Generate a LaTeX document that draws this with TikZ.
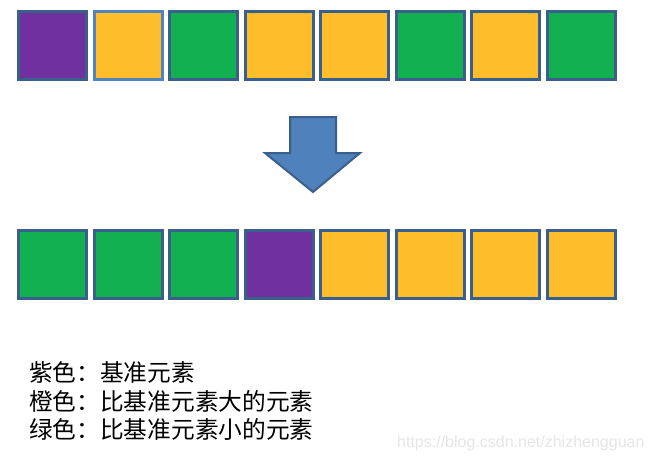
\documentclass[tikz,border=0pt]{standalone}
\usepackage{fontspec}
\newfontfamily\cjk{Noto Sans CJK SC}
\newfontfamily\wmfont{Liberation Sans}
\definecolor{cpurple}{HTML}{7030A0}
\definecolor{corange}{HTML}{FEBE2B}
\definecolor{cgreen}{HTML}{12B050}
\definecolor{cborder}{HTML}{3A5F8B}
\definecolor{clight}{HTML}{5083C0}
\definecolor{carrow}{HTML}{4F81BD}
\begin{document}
\begin{tikzpicture}[x=1pt,y=-1pt,
  sq/.style={rectangle,draw=cborder,line width=3pt,minimum size=67.7pt,inner sep=0pt,outer sep=0pt},
  legend/.style={anchor=base west,inner sep=0pt,font=\cjk\fontsize{23.7}{28}\selectfont},
  wm/.style={anchor=base west,inner sep=0pt,text=black!10,font=\wmfont\fontsize{16}{18}\selectfont}]
\useasboundingbox (0,0) rectangle (651,461);
% top row
\node[sq,fill=cpurple] (t1) at (52.65,45.5) {};
\node[sq,fill=corange,draw=clight] (t2) at (128.15,45.5) {};
\node[sq,fill=cgreen] (t3) at (203.65,45.5) {};
\node[sq,fill=corange] (t4) at (279.15,45.5) {};
\node[sq,fill=corange] (t5) at (354.65,45.5) {};
\node[sq,fill=cgreen] (t6) at (430.15,45.5) {};
\node[sq,fill=corange] (t7) at (505.65,45.5) {};
\node[sq,fill=cgreen] (t8) at (581.15,45.5) {};
% bottom row
\node[sq,fill=cgreen] (b1) at (52.65,264.5) {};
\node[sq,fill=cgreen] (b2) at (128.15,264.5) {};
\node[sq,fill=cgreen] (b3) at (203.65,264.5) {};
\node[sq,fill=cpurple] (b4) at (279.15,264.5) {};
\node[sq,fill=corange] (b5) at (354.65,264.5) {};
\node[sq,fill=corange] (b6) at (430.15,264.5) {};
\node[sq,fill=corange] (b7) at (505.65,264.5) {};
\node[sq,fill=corange] (b8) at (581.15,264.5) {};
% arrow
\draw[fill=carrow,draw=cborder,line width=2pt,line join=miter]
  (290,117) -- (336,117) -- (336,153) -- (360,153) -- (313,192) -- (265,153) -- (290,153) -- cycle;
% legend
\node[legend] (l1) at (29,381) {紫色：基准元素};
\node[legend] (l2) at (29,410) {橙色：比基准元素大的元素};
\node[legend] (l3) at (29,438) {绿色：比基准元素小的元素};
\node[wm] (w) at (397,447) {https://blog.csdn.net/zhizhengguan};
\end{tikzpicture}
\end{document}
